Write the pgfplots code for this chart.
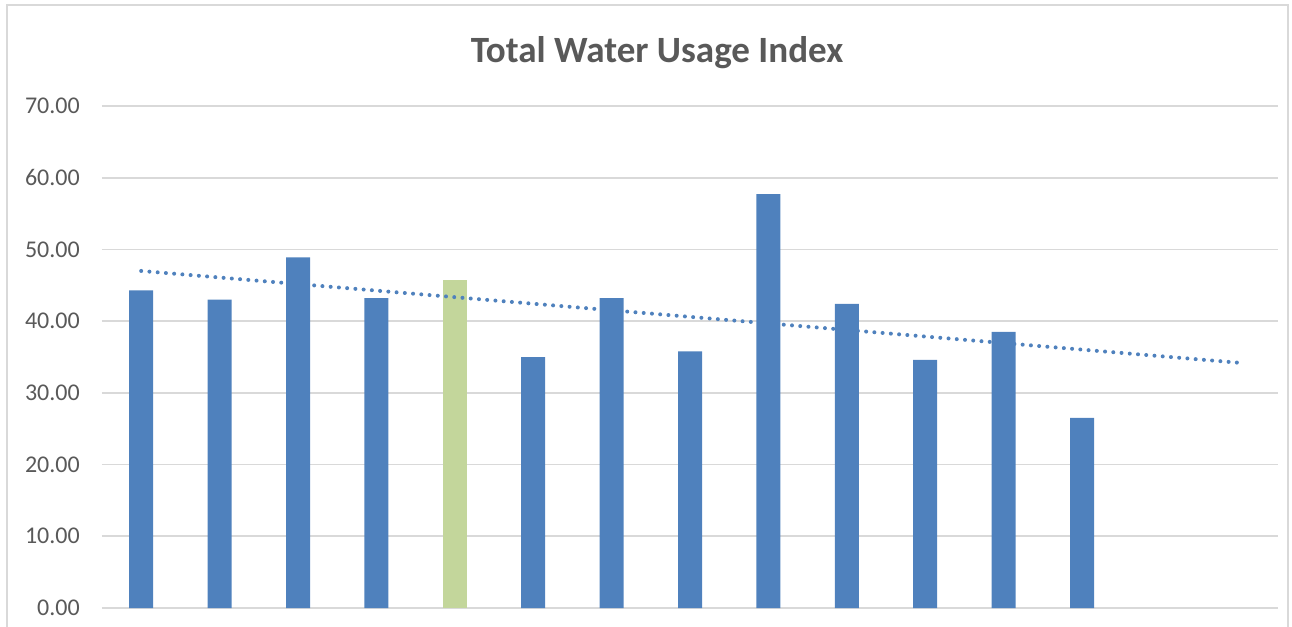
\documentclass[border=0pt]{standalone}
\usepackage{pgfplots}
\pgfplotsset{compat=1.18}
\usepackage{fontspec}
\setmainfont{Carlito}
\definecolor{barblue}{HTML}{4F81BD}
\definecolor{bargreen}{HTML}{C3D69B}
\definecolor{gridgray}{HTML}{D9D9D9}
\definecolor{txtgray}{HTML}{595959}
\begin{document}
\begin{tikzpicture}
\useasboundingbox (0,0) rectangle (969pt,469.5pt);
\draw[gridgray, line width=1pt] (5.25pt,-5pt) rectangle (966pt,465.75pt);
\node[anchor=base, text=txtgray, font=\fontsize{27.8}{32}\selectfont\bfseries] at (492.75pt,422.5pt) {Total Water Usage Index};
\begin{axis}[
  at={(76.5pt,13.5pt)}, anchor=south west,
  scale only axis, width=882pt, height=376.5pt,
  xmin=-0.5, xmax=14.5, ymin=0, ymax=70,
  ytick={0,10,...,70}, xtick=\empty,
  axis line style={draw=none},
  major tick length=0pt,
  ymajorgrids, grid style={gridgray, line width=1.3pt},
  yticklabel style={anchor=east, inner sep=0pt, xshift=-16.5pt, text=txtgray, font=\fontsize{18}{20}\selectfont},
  /pgf/number format/.cd, fixed, fixed zerofill, precision=2, assume math mode=true,
]
\addplot[ybar, bar width=18pt, fill=barblue, draw=none] coordinates {
 (0,44.3) (1,43.0) (2,48.9) (3,43.2) (5,35.0) (6,43.2) (7,35.8) (8,57.7) (9,42.4) (10,34.6) (11,38.5) (12,26.5)};
\addplot[ybar, bar width=18pt, fill=bargreen, draw=none] coordinates {(4,45.8)};
\addplot[barblue, line width=3pt, line cap=round, dash pattern=on 0pt off 6.2pt] coordinates {(0,47.0) (14,34.2)};
\end{axis}
\end{tikzpicture}
\end{document}
